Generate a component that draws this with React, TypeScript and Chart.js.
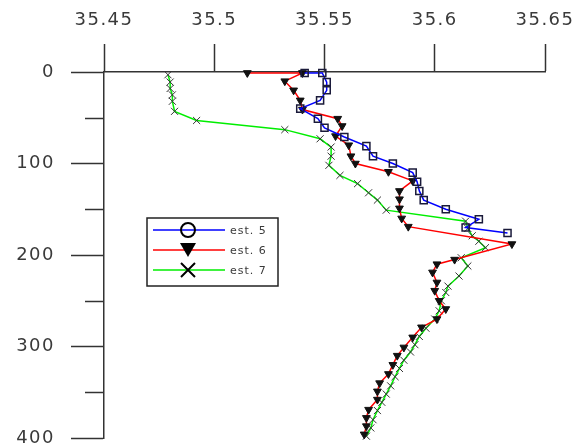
import React, { useEffect, useRef } from 'react';
import { Chart, registerables } from 'chart.js';

Chart.register(...registerables);

// ---- data ----
const seriesLabels = ['est. 5', 'est. 6', 'est. 7'];
const xTickValues = [35.45, 35.5, 35.55, 35.6, 35.65];
const xTickLabels = ['35.45', '35.5', '35.55', '35.6', '35.65'];
const yMajorTicks = [0, 100, 200, 300, 400];
const yMinorTicks = [50, 150, 250, 350];

const est5Depth = [1, 1, 11, 20, 31, 40, 51, 61, 71, 81, 92, 100, 110, 120, 130, 140, 150, 161, 170, 176];
const est5Salinity = [35.541, 35.549, 35.551, 35.551, 35.548, 35.539, 35.547, 35.550, 35.559, 35.569, 35.572, 35.581, 35.590, 35.592, 35.593, 35.595, 35.605, 35.620, 35.614, 35.633];

const est6Depth = [1, 1, 10, 20, 31, 41, 51, 59, 70, 80, 92, 100, 109, 119, 130, 139, 149, 160, 169, 188, 205, 210, 219, 230, 239, 250, 259, 270, 279, 290, 301, 310, 320, 330, 340, 349, 358, 369, 378, 387, 396];
const est6Salinity = [35.515, 35.540, 35.532, 35.536, 35.539, 35.540, 35.556, 35.558, 35.555, 35.561, 35.562, 35.564, 35.579, 35.590, 35.584, 35.584, 35.584, 35.585, 35.588, 35.635, 35.609, 35.601, 35.599, 35.601, 35.600, 35.602, 35.605, 35.601, 35.594, 35.590, 35.586, 35.583, 35.581, 35.579, 35.575, 35.574, 35.574, 35.570, 35.569, 35.569, 35.568];

const est7Depth = [3, 11, 18, 25, 32, 43, 53, 63, 73, 82, 92, 102, 113, 122, 132, 140, 151, 163, 171, 179, 185, 192, 203, 212, 223, 234, 241, 250, 261, 270, 280, 289, 298, 306, 315, 324, 333, 343, 352, 361, 370, 380, 389, 398];
const est7Salinity = [35.479, 35.480, 35.480, 35.481, 35.481, 35.482, 35.492, 35.532, 35.548, 35.553, 35.553, 35.552, 35.557, 35.565, 35.570, 35.574, 35.578, 35.614, 35.615, 35.617, 35.620, 35.623, 35.612, 35.615, 35.611, 35.606, 35.605, 35.603, 35.602, 35.600, 35.596, 35.593, 35.591, 35.589, 35.586, 35.584, 35.582, 35.580, 35.578, 35.576, 35.574, 35.572, 35.571, 35.569];

// ---- styles ----
const axisColor = '#333333';
const textColor = '#3a3a3a';
const lineColors = ['#0000ff', '#ff0000', '#00ee00'];
const legendMarkers = ['circle', 'triangleDown', 'cross'];

const toPoints = (xs: number[], ys: number[]) => xs.map((x, i) => ({ x, y: ys[i] }));

const overlayPlugin = {
  id: 'overlay',
  beforeDraw(chart: any) {
    try { chart.ctx.letterSpacing = '1.5px'; } catch (e) {}
  },
  beforeDatasetsDraw(chart: any) {
    try { chart.ctx.letterSpacing = '0px'; } catch (e) {}
  },
  afterDraw(chart: any) {
    const ctx = chart.ctx;
    const ys = chart.scales.y;
    const left = chart.chartArea.left;
    ctx.save();
    ctx.strokeStyle = axisColor;
    ctx.lineWidth = 1.5;
    yMinorTicks.forEach((v) => {
      const py = Math.round(ys.getPixelForValue(v)) + 0.5;
      ctx.beginPath();
      ctx.moveTo(left - 19, py);
      ctx.lineTo(left, py);
      ctx.stroke();
    });

    // legend box
    const bx = 147, by = 218, bw = 131, bh = 68;
    ctx.fillStyle = '#ffffff';
    ctx.fillRect(bx, by, bw, bh);
    ctx.strokeStyle = '#222';
    ctx.lineWidth = 1.5;
    ctx.strokeRect(bx, by, bw, bh);
    ctx.font = '11px "DejaVu Sans", sans-serif';
    try { ctx.letterSpacing = '1px'; } catch (e) {}
    ctx.textBaseline = 'middle';
    ctx.textAlign = 'left';
    chart.data.datasets.forEach((ds: any, i: number) => {
      const cy = by + 12 + i * 20;
      ctx.strokeStyle = lineColors[i];
      ctx.lineWidth = 1.5;
      ctx.beginPath();
      ctx.moveTo(bx + 6, cy);
      ctx.lineTo(bx + 78, cy);
      ctx.stroke();
      const mx = bx + 41;
      ctx.strokeStyle = '#000';
      ctx.fillStyle = '#000';
      ctx.lineWidth = 2;
      const m = legendMarkers[i];
      if (m === 'circle') {
        ctx.beginPath();
        ctx.arc(mx, cy, 7, 0, Math.PI * 2);
        ctx.stroke();
      } else if (m === 'triangleDown') {
        ctx.beginPath();
        ctx.moveTo(mx - 8, cy - 7);
        ctx.lineTo(mx + 8, cy - 7);
        ctx.lineTo(mx, cy + 7);
        ctx.closePath();
        ctx.fill();
      } else {
        ctx.beginPath();
        ctx.moveTo(mx - 7, cy - 7);
        ctx.lineTo(mx + 7, cy + 7);
        ctx.moveTo(mx + 7, cy - 7);
        ctx.lineTo(mx - 7, cy + 7);
        ctx.stroke();
      }
      ctx.fillStyle = textColor;
      ctx.fillText(ds.label, bx + 83, cy + 1);
    });
    ctx.restore();
  },
};

export default function App() {
  const canvasRef = useRef<HTMLCanvasElement | null>(null);

  useEffect(() => {
    if (!canvasRef.current) return;
    const tickFont = { family: '"DejaVu Sans", sans-serif', size: 18 };
    const chart = new Chart(canvasRef.current, {
      type: 'scatter',
      data: {
        datasets: [
          {
            label: seriesLabels[0],
            data: toPoints(est5Salinity, est5Depth),
            showLine: true,
            borderColor: lineColors[0],
            borderWidth: 1.5,
            pointStyle: 'rect',
            pointRadius: 5,
            pointBorderWidth: 1.5,
            pointBorderColor: '#1a1a3a',
            pointBackgroundColor: 'rgba(255,255,255,0)',
            clip: false,
          },
          {
            label: seriesLabels[1],
            data: toPoints(est6Salinity, est6Depth),
            showLine: true,
            borderColor: lineColors[1],
            borderWidth: 1.5,
            pointStyle: 'triangle',
            rotation: 180,
            pointRadius: 4.5,
            pointBorderWidth: 1,
            pointBorderColor: '#111',
            pointBackgroundColor: '#111',
            clip: false,
          },
          {
            label: seriesLabels[2],
            data: toPoints(est7Salinity, est7Depth),
            showLine: true,
            borderColor: lineColors[2],
            borderWidth: 1.5,
            pointStyle: 'crossRot',
            pointRadius: 5,
            pointBorderWidth: 1,
            pointBorderColor: '#333',
            pointBackgroundColor: '#333',
            clip: false,
          },
        ],
      } as any,
      options: {
        responsive: false,
        maintainAspectRatio: false,
        animation: false,
        events: [],
        layout: { padding: { left: 0, top: 0, right: 37, bottom: 7 } },
        plugins: { legend: { display: false }, tooltip: { enabled: false } },
        scales: {
          x: {
            type: 'linear',
            position: 'top',
            min: 35.45,
            max: 35.65,
            afterFit: (s: any) => { s.height = 72; s.paddingLeft = 0; s.paddingRight = 0; },
            afterBuildTicks: (s: any) => { s.ticks = xTickValues.map((v) => ({ value: v })); },
            ticks: {
              callback: (_v: any, i: number) => xTickLabels[i],
              padding: 13,
              font: tickFont,
              color: textColor,
              maxRotation: 0,
              autoSkip: false,
            },
            grid: { drawOnChartArea: false, drawTicks: true, tickLength: 28, tickColor: axisColor, tickWidth: 1.5 },
            border: { display: true, color: axisColor, width: 1.5 },
          },
          y: {
            type: 'linear',
            reverse: true,
            min: 0,
            max: 400,
            afterFit: (s: any) => { s.width = 104; s.paddingTop = 0; s.paddingBottom = 0; },
            afterBuildTicks: (s: any) => { s.ticks = yMajorTicks.map((v) => ({ value: v })); },
            ticks: {
              callback: (v: any) => String(v),
              padding: 16,
              font: tickFont,
              color: textColor,
              autoSkip: false,
            },
            grid: { drawOnChartArea: false, drawTicks: true, tickLength: 33, tickColor: axisColor, tickWidth: 1.5 },
            border: { display: true, color: axisColor, width: 1.5 },
          },
        },
      } as any,
      plugins: [overlayPlugin],
    });
    return () => chart.destroy();
  }, []);

  return (
    <div style={{ position: 'fixed', left: 0, top: 0, width: 582, height: 445, background: '#fff' }}>
      <canvas ref={canvasRef} width={582} height={445} style={{ display: 'block', width: 582, height: 445 }} />
    </div>
  );
}
